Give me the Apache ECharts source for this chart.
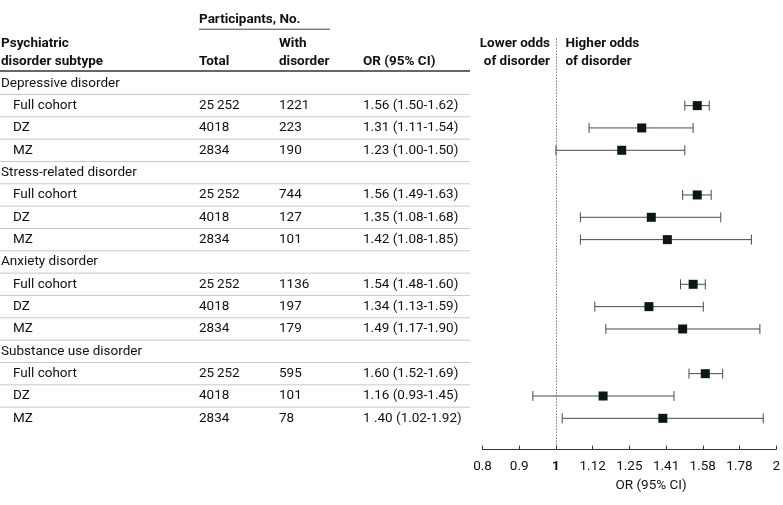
<!DOCTYPE html>
<html>
<head>
<meta charset="utf-8">
<script src="https://cdn.jsdelivr.net/npm/echarts@6/dist/echarts.min.js"></script>
<style>
  html, body { margin: 0; padding: 0; background: #fff; }
  #main { width: 783px; height: 505px; }
</style>
</head>
<body>
<div id="main"></div>
<script>
// 数据
var groups = ['Depressive disorder', 'Stress-related disorder', 'Anxiety disorder', 'Substance use disorder'];
var cohorts = ['Full cohort', 'DZ', 'MZ'];
var totals = ['25\u2009252', '4018', '2834'];
var withDisorder = [1221, 223, 190, 744, 127, 101, 1136, 197, 179, 595, 101, 78];
var orValues = [1.56, 1.31, 1.23, 1.56, 1.35, 1.42, 1.54, 1.34, 1.49, 1.60, 1.16, 1.40];
var ciLow = [1.50, 1.11, 1.00, 1.49, 1.08, 1.08, 1.48, 1.13, 1.17, 1.52, 0.93, 1.02];
var ciHigh = [1.62, 1.54, 1.50, 1.63, 1.68, 1.85, 1.60, 1.59, 1.90, 1.69, 1.45, 1.92];
var orLabels = [
  '1.56 (1.50-1.62)', '1.31 (1.11-1.54)', '1.23 (1.00-1.50)',
  '1.56 (1.49-1.63)', '1.35 (1.08-1.68)', '1.42 (1.08-1.85)',
  '1.54 (1.48-1.60)', '1.34 (1.13-1.59)', '1.49 (1.17-1.90)',
  '1.60 (1.52-1.69)', '1.16 (0.93-1.45)', '1 .40 (1.02-1.92)'
];
var tickLabels = ['0.8', '0.9', '1', '1.12', '1.25', '1.41', '1.58', '1.78', '2'];

// 横轴: 6*log2(OR)，刻度按 2^(k/6) 均匀分布
function toAxis(v) { return 6 * Math.log2(v); }

var FONT = 'Roboto, "Noto Sans", sans-serif';
var FS = 13.5;
var Y_MIN = -2, Y_MAX = 16.4;
var COL_X = { label: 1, sub: 13, total: 199, withD: 279, or: 363, right: 470, lower: 550, higher: 565.5 };

// 表格行: 组标题 + 每组三行
var tableRows = [];
var plotRows = [];
for (var g = 0; g < groups.length; g++) {
  tableRows.push({ row: g * 4, label: groups[g], group: true });
  for (var c = 0; c < cohorts.length; c++) {
    var k = g * 3 + c;
    var r = g * 4 + 1 + c;
    tableRows.push({ row: r, label: cohorts[c], total: totals[c], withD: String(withDisorder[k]), or: orLabels[k] });
    plotRows.push({ row: r, or: orValues[k], lo: ciLow[k], hi: ciHigh[k] });
  }
}
var lastRow = tableRows[tableRows.length - 1].row;

function txt(text, x, y, opts) {
  opts = opts || {};
  return {
    type: 'text',
    style: {
      text: text, x: x, y: y, fill: '#111', fontFamily: FONT, fontSize: FS,
      fontWeight: opts.bold ? 'bold' : 'normal',
      align: opts.align || 'left', verticalAlign: 'middle'
    }
  };
}

// 表头 (放在表格那一列的坐标系里)
function renderHeader(api) {
  var y = function (r) { return api.coord([0, r])[1]; };
  var x = function (v) { return api.coord([v, 0])[0]; };
  return [
    txt('Participants, No.', x(COL_X.total), y(-2.84), { bold: true }),
    { type: 'line', shape: { x1: x(COL_X.total), y1: y(-2.42), x2: x(330), y2: y(-2.42) }, style: { stroke: '#444', lineWidth: 1 } },
    txt('Psychiatric', x(COL_X.label), y(-1.79), { bold: true }),
    txt('disorder subtype', x(COL_X.label), y(-0.97), { bold: true }),
    txt('Total', x(COL_X.total), y(-0.97), { bold: true }),
    txt('With', x(COL_X.withD), y(-1.79), { bold: true }),
    txt('disorder', x(COL_X.withD), y(-0.97), { bold: true }),
    txt('OR (95% CI)', x(COL_X.or), y(-0.97), { bold: true }),
    { type: 'line', shape: { x1: x(0), y1: y(-0.55), x2: x(COL_X.right), y2: y(-0.55) }, style: { stroke: '#333', lineWidth: 1.6 } },
    txt('Lower odds', x(COL_X.lower), y(-1.79), { bold: true, align: 'right' }),
    txt('of disorder', x(COL_X.lower), y(-0.97), { bold: true, align: 'right' }),
    txt('Higher odds', x(COL_X.higher), y(-1.79), { bold: true }),
    txt('of disorder', x(COL_X.higher), y(-0.97), { bold: true })
  ];
}

var chart = echarts.init(document.getElementById('main'));

chart.setOption({
  animation: false,
  grid: [
    { left: 0, width: 470, top: 38.6, height: 411 },
    { left: 482.5, width: 296, top: 38.6, height: 411 }
  ],
  xAxis: [
    { gridIndex: 0, type: 'value', min: 0, max: 470, show: false },
    {
      gridIndex: 1, type: 'value', min: -2, max: 6, interval: 1,
      axisLine: { onZero: false, lineStyle: { color: '#333' } },
      axisTick: { inside: true, length: 4, lineStyle: { color: '#333' } },
      splitLine: { show: false },
      axisLabel: {
        color: '#111', fontFamily: FONT, fontSize: FS, margin: 10,
        // "1" 单独用粗体画在下面
        formatter: function (v) {
          return Math.round(v) === 0 ? '' : tickLabels[Math.round(v) + 2];
        }
      }
    }
  ],
  yAxis: [
    { gridIndex: 0, type: 'value', inverse: true, min: Y_MIN, max: Y_MAX, show: false },
    { gridIndex: 1, type: 'value', inverse: true, min: Y_MIN, max: Y_MAX, show: false }
  ],
  series: [
    {
      // 表格: 第一项画表头，其余每行一项
      type: 'custom', xAxisIndex: 0, yAxisIndex: 0, clip: false,
      data: [[0, -1]].concat(tableRows.map(function (r) { return [0, r.row]; })),
      renderItem: function (params, api) {
        if (params.dataIndex === 0) {
          return { type: 'group', children: renderHeader(api) };
        }
        var r = tableRows[params.dataIndex - 1];
        var yc = api.coord([0, r.row])[1];
        var x = function (v) { return api.coord([v, 0])[0]; };
        var children = [txt(r.label, x(r.group ? COL_X.label : COL_X.sub), yc)];
        if (!r.group) {
          children.push(txt(r.total, x(COL_X.total), yc));
          children.push(txt(r.withD, x(COL_X.withD), yc));
          children.push(txt(r.or, x(COL_X.or), yc));
        }
        if (r.row !== lastRow) {
          var yl = api.coord([0, r.row + 0.5])[1];
          children.push({ type: 'line', shape: { x1: x(0), y1: yl, x2: x(COL_X.right), y2: yl }, style: { stroke: '#c9c9c9', lineWidth: 1 } });
        }
        return { type: 'group', children: children };
      }
    },
    {
      // 横轴粗体 "1" 和轴标题
      type: 'custom', xAxisIndex: 1, yAxisIndex: 1, clip: false,
      data: [[0, Y_MAX]],
      renderItem: function (params, api) {
        var p = api.coord([0, Y_MAX]);
        var mid = api.coord([toAxis(1.41), Y_MAX]);
        return {
          type: 'group',
          children: [
            txt(tickLabels[2], p[0], p[1] + 17.5, { bold: true, align: 'center' }),
            txt('OR (95% CI)', mid[0] - 14, p[1] + 36, { align: 'center' })
          ]
        };
      }
    },
    {
      // 置信区间
      type: 'custom', xAxisIndex: 1, yAxisIndex: 1, clip: false,
      data: plotRows.map(function (p) { return [toAxis(p.lo), toAxis(p.hi), p.row]; }),
      renderItem: function (params, api) {
        var a = api.coord([api.value(0), api.value(2)]);
        var b = api.coord([api.value(1), api.value(2)]);
        var st = { stroke: '#4a4a4a', lineWidth: 1 };
        return {
          type: 'group',
          children: [
            { type: 'line', shape: { x1: a[0], y1: a[1], x2: b[0], y2: b[1] }, style: st },
            { type: 'line', shape: { x1: a[0], y1: a[1] - 5, x2: a[0], y2: a[1] + 5 }, style: st },
            { type: 'line', shape: { x1: b[0], y1: b[1] - 5, x2: b[0], y2: b[1] + 5 }, style: st }
          ]
        };
      }
    },
    {
      // OR 点估计
      type: 'scatter', xAxisIndex: 1, yAxisIndex: 1,
      symbol: 'rect', symbolSize: 9,
      itemStyle: { color: '#0b1616', opacity: 1 },
      data: plotRows.map(function (p) { return [toAxis(p.or), p.row]; }),
      markLine: {
        symbol: ['none', 'none'],
        label: { show: false },
        lineStyle: { type: [1, 2], color: '#333', width: 1 },
        data: [{ xAxis: 0 }]
      }
    }
  ]
});
</script>
</body>
</html>
